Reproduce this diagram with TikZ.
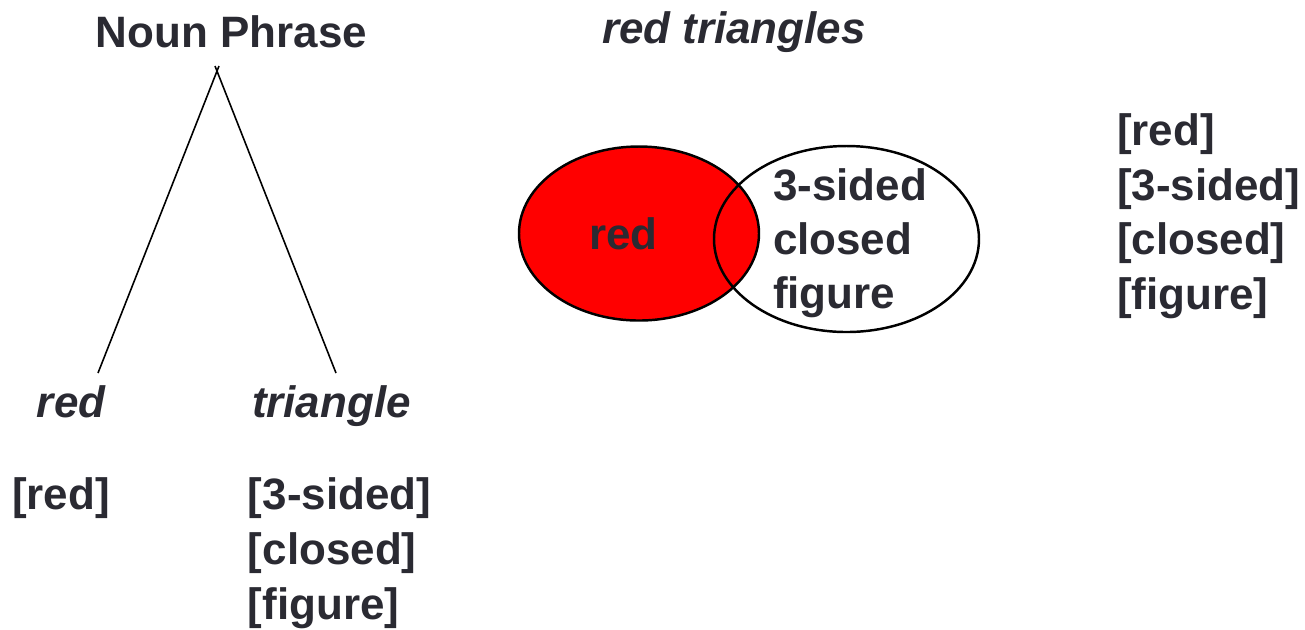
\documentclass[tikz,border=0pt]{standalone}
\usepackage{fontspec}
\setmainfont{Liberation Sans}
\definecolor{ink}{RGB}{42,42,50}
\definecolor{vennred}{RGB}{255,0,0}
\begin{document}
\begin{tikzpicture}[x=0.01cm,y=-0.01cm,
  lbl/.style={anchor=base west,inner sep=0pt,outer sep=0pt,text=ink,
    font=\fontsize{12.5}{15}\selectfont\bfseries},
  ilbl/.style={lbl,font=\fontsize{12.5}{15}\selectfont\bfseries\itshape},
  branch/.style={line width=0.45pt,black},
  setline/.style={line width=0.7pt,black}]
\useasboundingbox (0,0) rectangle (1305,629);
% syntax tree
\node[lbl] (np) at (96,47) {Noun Phrase};
\coordinate (apexL) at (219,66);
\coordinate (apexR) at (215,66);
\coordinate (leafL) at (98,373);
\coordinate (leafR) at (336,373);
\draw[branch] (apexL) -- (leafL);
\draw[branch] (apexR) -- (leafR);
\node[ilbl] (wred) at (37,417) {red};
\node[ilbl] (wtri) at (252,417) {triangle};
% feature lists under the leaves
\node[lbl] (fr) at (12,509) {[red]};
\node[lbl] (ft1) at (248,509) {[3-sided]};
\node[lbl] (ft2) at (248,564) {[closed]};
\node[lbl] (ft3) at (248,619) {[figure]};
% intersective reading
\node[ilbl] (rt) at (602,43) {red triangles};
\fill[vennred] (639,233.5) ellipse [x radius=120,y radius=87];
\draw[setline] (639,233.5) ellipse [x radius=120,y radius=87];
\draw[setline] (846.5,239) ellipse [x radius=132.5,y radius=93];
\node[lbl] (vr) at (589,249) {red};
\node[lbl] (v1) at (773,200) {3-sided};
\node[lbl] (v2) at (773,254) {closed};
\node[lbl] (v3) at (773,308) {figure};
% combined feature list
\node[lbl] (c1) at (1117,145) {[red]};
\node[lbl] (c2) at (1117,200) {[3-sided]};
\node[lbl] (c3) at (1117,254) {[closed]};
\node[lbl] (c4) at (1117,309) {[figure]};
\end{tikzpicture}
\end{document}
